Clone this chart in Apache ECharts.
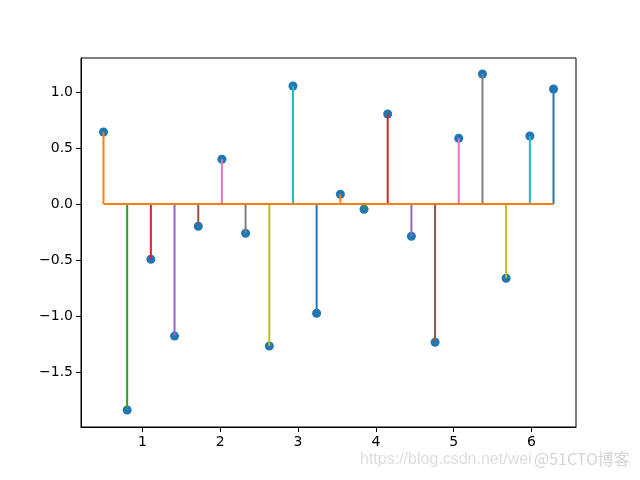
<!DOCTYPE html>
<html>
<head>
<meta charset="utf-8">
<script src="https://cdn.jsdelivr.net/npm/echarts@6/dist/echarts.min.js"></script>
<style>html,body{margin:0;padding:0;background:#fff;}#c{width:640px;height:480px;}</style>
</head>
<body>
<div id="c"></div>
<script>
const xs = [0.5, 0.804, 1.109, 1.413, 1.718, 2.022, 2.326, 2.631, 2.935, 3.239, 3.544, 3.848, 4.152, 4.457, 4.761, 5.065, 5.370, 5.674, 5.979, 6.283];
const ys = [0.643, -1.839, -0.493, -1.179, -0.198, 0.400, -0.261, -1.268, 1.054, -0.975, 0.087, -0.047, 0.804, -0.288, -1.234, 0.587, 1.161, -0.663, 0.607, 1.027];
const xTicks = [1, 2, 3, 4, 5, 6];
const yTicks = [-1.5, -1.0, -0.5, 0.0, 0.5, 1.0];
const palette = ['#1f77b4', '#ff7f0e', '#2ca02c', '#d62728', '#9467bd', '#8c564b', '#e377c2', '#7f7f7f', '#bcbd22', '#17becf'];

const pts = xs.map((x, i) => [x, ys[i]]);
const fmtY = v => (v < 0 ? '\u2212' : '') + Math.abs(v).toFixed(1);

const chart = echarts.init(document.getElementById('c'), null, {renderer: 'canvas'});
const font = 'DejaVu Sans';
chart.setOption({
  animation: false,
  backgroundColor: '#fff',
  grid: {left: 81, right: 64, top: 58, bottom: 53, show: true, borderColor: '#000', borderWidth: 1, containLabel: false, outerBoundsMode: 'none'},
  xAxis: {
    type: 'value', min: 0.211, max: 6.572,
    axisLine: {show: true, onZero: false, lineStyle: {color: '#000', width: 1}},
    axisTick: {show: true, length: 5, lineStyle: {color: '#000'}, customValues: xTicks},
    axisLabel: {color: '#000', fontFamily: font, fontSize: 14, margin: 8, customValues: xTicks, formatter: v => String(Math.round(v))},
    splitLine: {show: false}
  },
  yAxis: {
    type: 'value', min: -1.991, max: 1.304,
    axisLine: {show: true, onZero: false, lineStyle: {color: '#000', width: 1}},
    axisTick: {show: true, length: 5, lineStyle: {color: '#000'}, customValues: yTicks},
    axisLabel: {color: '#000', fontFamily: font, fontSize: 14, margin: 8, customValues: yTicks, formatter: fmtY},
    splitLine: {show: false}
  },
  series: [
    {
      type: 'scatter', data: pts, symbol: 'circle', symbolSize: 9, z: 2,
      itemStyle: {color: '#1f77b4', opacity: 1}
    },
    {
      type: 'custom', data: pts, z: 3, encode: {x: 0, y: 1},
      renderItem: function (params, api) {
        const x = api.value(0), y = api.value(1);
        const p0 = api.coord([x, 0]);
        const p1 = api.coord([x, y]);
        return {type: 'line', shape: {x1: p0[0], y1: p0[1], x2: p1[0], y2: p1[1]},
          style: {stroke: palette[(params.dataIndex + 1) % 10], lineWidth: 2}};
      }
    },
    {
      type: 'line', data: [[xs[0], 0], [xs[xs.length - 1], 0]], z: 4,
      showSymbol: false, symbol: 'none',
      lineStyle: {color: '#ff7f0e', width: 2}
    }
  ],
  graphic: [
    {type: 'text', left: 360, top: 452, z: 10, style: {text: 'https://blog.csdn.net/wei', fill: '#dedede', font: '16px "Liberation Sans"'}},
    {type: 'text', left: 533, top: 450, z: 11, style: {text: '@51CTO博客', fill: '#d4d4d4', stroke: '#ffffff', lineWidth: 2, font: '16px "Noto Sans CJK SC"'}}
  ]
});
</script>
</body>
</html>
